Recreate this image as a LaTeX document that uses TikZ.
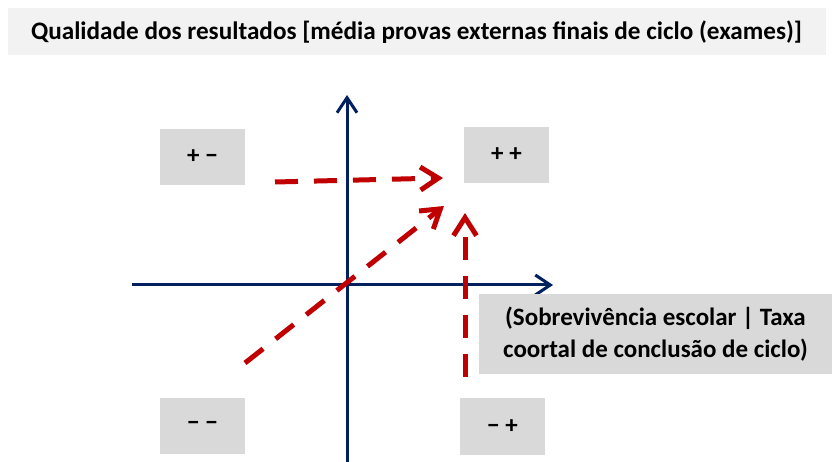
\documentclass[tikz,border=0pt]{standalone}
\usepackage{fontspec}
\setmainfont{Carlito}
\usetikzlibrary{arrows.meta}
\definecolor{navy}{HTML}{002060}
\definecolor{dred}{HTML}{C00000}
\definecolor{boxgray}{HTML}{D9D9D9}
\definecolor{titlegray}{HTML}{F2F2F2}
\tikzset{
  titlebox/.style={fill=titlegray, inner sep=0pt, minimum width=818pt, minimum height=47pt, font=\bfseries\fontsize{25.2}{30}\selectfont},
  quad/.style={fill=boxgray, inner sep=0pt, minimum width=85pt, minimum height=56pt, font=\bfseries\fontsize{25}{30}\selectfont},
  axlabel/.style={fill=boxgray, inner sep=0pt, minimum width=353pt, minimum height=80pt, align=center, font=\bfseries\fontsize{25}{32}\selectfont},
  axis/.style={draw=navy, line width=3pt, -{Straight Barb[length=15pt, width=20pt, line width=3pt]}},
  move/.style={draw=dred, line width=5pt, dash pattern=on 23pt off 16pt, -{Straight Barb[length=18pt, width=23pt, line width=5pt]}}
}
\begin{document}
\begin{tikzpicture}[x=1pt, y=-1pt]
\useasboundingbox (0,0) rectangle (836,462);
\node[titlebox] (title) at (416.5,32) {Qualidade dos resultados [média provas externas finais de ciclo (exames)]};
\node[quad] (pm) at (202.5,157) {+ −};
\node[quad] (pp) at (506.5,155) {+ +};
\node[quad] (mm) at (202.5,426) {− −};
\node[quad] (mp) at (502.5,426.5) {− +};
\coordinate (xl) at (132,285);
\coordinate (xr) at (553,285);
\coordinate (yb) at (347,462);
\coordinate (yt) at (347,95);
\draw[axis] (xl) -- (xr);
\draw[axis] (yb) -- (yt);
\node[axlabel] (xlab) at (655.5,334) {(Sobrevivência escolar | Taxa\\coortal de conclusão de ciclo)};
\coordinate (h0) at (275,182);
\coordinate (h1) at (443,178);
\coordinate (d0) at (245,363);
\coordinate (d1) at (444,206);
\coordinate (v0) at (465,377);
\coordinate (v1) at (465,213);
\draw[move] (h0) -- (h1);
\draw[move] (d0) -- (d1);
\draw[move] (v0) -- (v1);
\end{tikzpicture}
\end{document}
